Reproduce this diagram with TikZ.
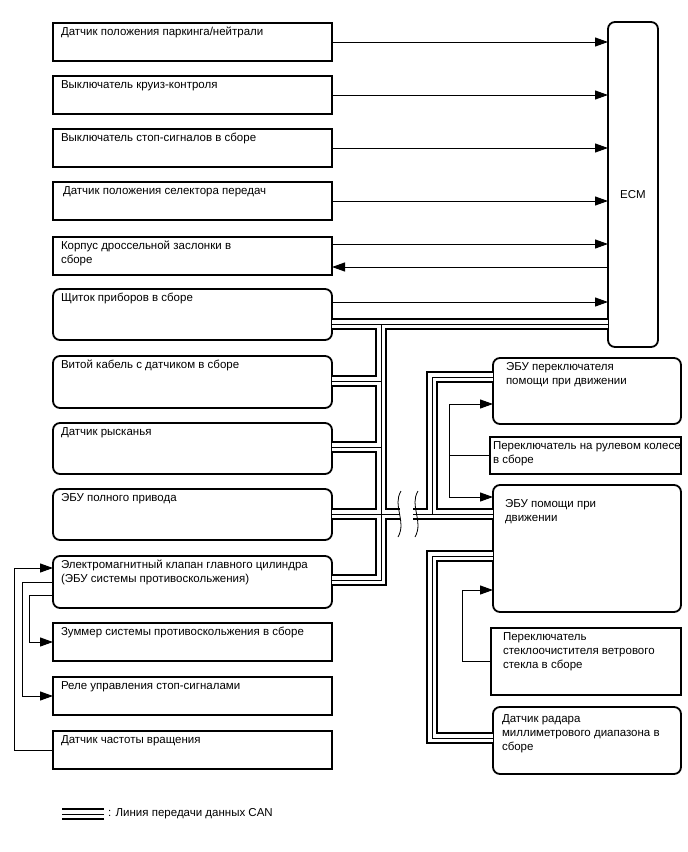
\documentclass[tikz,border=0pt]{standalone}
\usepackage{fontspec}
\setmainfont{Liberation Sans}
\usetikzlibrary{arrows.meta}

% top-left text block of a box: width, height, lines
\newcommand{\txt}[3]{\parbox[t][#2][t]{#1}{\begin{tabular}[t]{@{}l@{}}#3\end{tabular}}}

\begin{document}
\begin{tikzpicture}[x=1pt, y=-1pt,
    font=\fontsize{11.5}{14}\selectfont,
    box/.style={draw, line width=1.8pt, outer sep=0pt, anchor=north west, inner xsep=8pt, inner ysep=3pt},
    rbox/.style={box, rounded corners=7pt},
    sig/.style={line width=1pt, -{Triangle[length=13pt, width=9pt]}},
    can/.style={line width=12pt, postaction={draw=white, line width=8.4pt}, postaction={draw=black, line width=1pt}}]

    \useasboundingbox (0,0) rectangle (688,852);

    % ECM
    \node[rbox, inner sep=0pt, minimum width=50, minimum height=325, text height=27pt, text depth=0pt] (ecm) at (608,22) {ECM};

    % Left column
    \node[box] (park) at (53,23) {\txt{263pt}{32pt}{Датчик положения паркинга/нейтрали}};
    \node[box] (cruise) at (53,76) {\txt{263pt}{32pt}{Выключатель круиз-контроля}};
    \node[box] (stop) at (53,129) {\txt{263pt}{32pt}{Выключатель стоп-сигналов в сборе}};
    \node[box] (sel) at (53,182) {\txt{263pt}{32pt}{\hspace*{2pt}Датчик положения селектора передач}};
    \node[box] (throttle) at (53,237) {\txt{263pt}{32pt}{Корпус дроссельной заслонки в\\сборе}};
    \node[rbox] (combo) at (53,289) {\txt{263pt}{45pt}{Щиток приборов в сборе}};
    \node[rbox] (cable) at (53,356) {\txt{263pt}{46pt}{Витой кабель с датчиком в сборе}};
    \node[rbox] (yaw) at (53,423) {\txt{263pt}{45pt}{Датчик рысканья}};
    \node[rbox] (awd) at (53,489) {\txt{263pt}{45pt}{ЭБУ полного привода}};
    \node[rbox] (mcyl) at (53,556) {\txt{263pt}{46pt}{Электромагнитный клапан главного цилиндра\\(ЭБУ системы противоскольжения)}};
    \node[box] (buzz) at (53,623) {\txt{263pt}{32pt}{Зуммер системы противоскольжения в сборе}};
    \node[box] (relay) at (53,677) {\txt{263pt}{32pt}{Реле управления стоп-сигналами}};
    \node[box] (speed) at (53,731) {\txt{263pt}{32pt}{Датчик частоты вращения}};

    % Right column
    \node[rbox, inner xsep=13pt] (assistsw) at (493,358) {\txt{162pt}{60pt}{ЭБУ переключателя\\помощи при движении}};
    \node[box, inner xsep=3pt] (steer) at (490,437) {\txt{185pt}{31pt}{Переключатель на рулевом колесе\\в сборе}};
    \node[rbox, inner xsep=12pt] (assist) at (493,485) {\txt{164pt}{121pt}{\rule{0pt}{19pt}ЭБУ помощи при\\движении}};
    \node[box, inner xsep=12pt] (wiper) at (491,628) {\txt{166pt}{61pt}{Переключатель\\стеклоочистителя ветрового\\стекла в сборе}};
    \node[rbox, inner xsep=9pt] (radar) at (493,707) {\txt{170pt}{61pt}{\rule{0pt}{12pt}Датчик радара\\миллиметрового диапазона в\\сборе}};

    % Signals to and from the ECM
    \foreach \src in {park, cruise, stop, sel}
        \draw[sig] (\src.east) -- (ecm.west |- \src.east);
    \draw[sig] ([yshift=-7pt]throttle.north east) -- ([yshift=-7pt]ecm.west |- throttle.north east);
    \draw[sig] ([yshift=8pt]ecm.west |- throttle.south east) -- ([yshift=8pt]throttle.south east);
    \draw[sig] ([yshift=-13pt]combo.north east) -- ([yshift=-13pt]ecm.west |- combo.north east);

    % Signals on the left
    \draw[sig] (speed.west) -- ++(-39,0) |- ([yshift=-12pt]mcyl.north west);
    \draw[sig] ([yshift=-26pt]mcyl.north west) -- ++(-31,0) |- (relay.west);
    \draw[sig] ([yshift=-39pt]mcyl.north west) -- ++(-24,0) |- (buzz.west);

    % Signals on the right
    \draw[sig] (steer.west) -- ++(-41,0) coordinate (sj) |- ([yshift=-46pt]assistsw.north west);
    \draw[sig] (sj) |- ([yshift=-12pt]assist.north west);
    \draw[sig] (wiper.west) -- ++(-29,0) |- ([yshift=-105pt]assist.north west);

    % CAN bus
    \coordinate (trunk) at (381,324);
    \coordinate (brkL) at (400,514);
    \coordinate (brkR) at (413,514);
    \coordinate (rail) at (432,514);
    \coordinate (v3) at (432,738);
    \draw[can] ([yshift=16pt]combo.south east) -- ([yshift=16pt]ecm.west |- combo.south east)
        (trunk) |- ([yshift=-24pt]mcyl.north east)
        ([yshift=-25pt]cable.north east) -- ([yshift=-25pt]cable.north east -| trunk)
        ([yshift=-24pt]yaw.north east) -- ([yshift=-24pt]yaw.north east -| trunk)
        ([yshift=-25pt]awd.north east) -- (brkL)
        (brkR) -- ([yshift=-29pt]assist.north west)
        ([yshift=-19pt]assistsw.north west) -| (rail)
        ([yshift=-71pt]assist.north west) -| (v3) -- ([yshift=-31pt]radar.north west);

    % Break marks
    \draw[line width=0.8pt] (401,491) .. controls (392,506) and (407,521) .. (398,537);
    \draw[line width=0.8pt] (418,491) .. controls (409,506) and (424,521) .. (415,537);

    % Legend
    \node[anchor=west, inner sep=0pt] (legend) at (108,814) {: Линия передачи данных CAN};
    \draw[can] ([xshift=-4pt]legend.west) -- ++(-42,0);
\end{tikzpicture}
\end{document}
